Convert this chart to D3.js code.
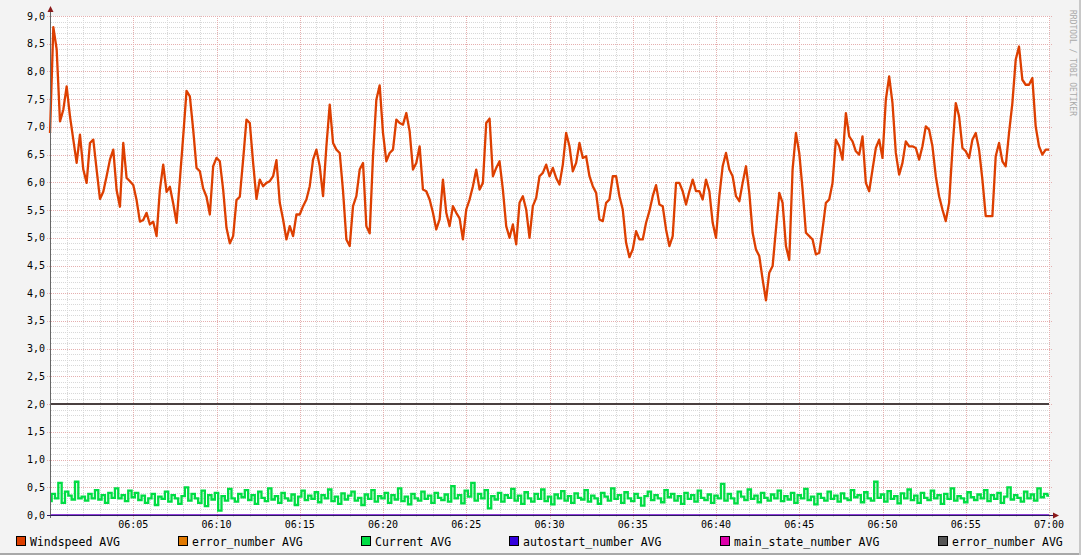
<!DOCTYPE html>
<html>
<head>
<meta charset="utf-8">
<script src="https://cdn.jsdelivr.net/npm/d3@7"></script>
<style>
body{margin:0;background:#f3f3f3}
text{font-family:"DejaVu Sans Mono",monospace}
</style>
</head>
<body>
<svg id="chart" width="1081" height="555"></svg>
<script>
// samples every 12 s from 06:00 to 07:00
const startTime = new Date(2020,0,1,6,0,0)
const endTime = new Date(2020,0,1,7,0,0)
const stepSec = 12

const windspeed = [
 6.89,8.80,8.40,7.10,7.31,7.73,7.19,6.77,6.35,6.86,6.23,5.99,6.71,6.77,6.23,5.70,5.83,6.11,6.41,6.59,
 5.86,5.56,6.71,6.08,6.02,5.95,5.68,5.29,5.32,5.45,5.24,5.29,5.03,5.87,6.32,5.83,5.92,5.62,5.27,6.05,
 6.83,7.65,7.55,6.95,6.26,6.20,5.89,5.74,5.42,6.29,6.44,6.38,5.87,5.18,4.90,5.03,5.68,5.74,6.41,7.13,
 7.07,6.35,5.70,6.05,5.93,5.99,6.02,6.11,6.40,5.63,5.33,4.97,5.21,5.03,5.42,5.42,5.57,5.69,5.93,6.41,
 6.59,6.29,5.75,6.65,7.40,6.71,6.59,6.53,5.84,4.97,4.85,5.57,5.75,6.23,6.35,5.21,5.08,6.47,7.49,7.75,
 6.89,6.38,6.53,6.59,7.13,7.07,7.04,7.25,6.92,6.23,6.35,6.65,5.87,5.84,5.69,5.45,5.15,5.33,6.05,5.45,
 5.21,5.57,5.45,5.35,4.97,5.51,5.69,5.93,6.23,5.87,5.99,7.07,7.15,6.11,6.26,6.38,5.87,5.21,5.00,5.24,
 4.88,5.63,5.75,5.51,5.00,5.57,5.72,6.11,6.17,6.32,6.11,6.26,6.08,5.96,6.32,6.89,6.65,6.20,6.35,6.71,
 6.44,6.47,6.11,5.93,5.81,5.33,5.30,5.63,5.69,6.11,6.11,5.75,5.51,4.91,4.65,4.79,5.12,4.97,4.97,5.27,
 5.48,5.75,5.95,5.60,5.57,5.15,4.85,5.03,5.99,5.99,5.84,5.60,5.84,6.05,5.84,5.84,5.69,6.05,5.84,5.27,
 5.00,5.75,6.29,6.53,6.23,6.11,5.75,5.66,5.99,6.29,5.81,5.09,4.79,4.67,4.25,3.87,4.37,4.49,5.15,5.81,
 5.63,4.85,4.60,6.23,6.89,6.53,5.87,5.09,5.03,4.97,4.70,4.73,5.15,5.63,5.69,5.99,6.77,6.65,6.41,7.25,
 6.83,6.74,6.56,6.50,6.83,5.99,5.84,6.23,6.62,6.77,6.44,7.49,7.91,7.43,6.53,6.14,6.35,6.74,6.65,6.65,
 6.62,6.41,6.65,7.01,6.95,6.65,6.11,5.75,5.51,5.30,5.63,6.59,7.43,7.19,6.62,6.56,6.44,6.77,6.89,6.59,
 6.05,5.39,5.39,5.39,6.47,6.71,6.38,6.29,6.89,7.43,8.21,8.45,7.85,7.76,7.76,7.88,7.01,6.65,6.50,6.59,
 6.59
]

const current = [
 0.25,0.38,0.30,0.58,0.22,0.42,0.35,0.28,0.60,0.30,0.33,0.26,0.38,0.30,0.45,0.28,0.36,0.22,0.40,0.31,
 0.48,0.30,0.36,0.25,0.44,0.32,0.40,0.27,0.35,0.22,0.30,0.38,0.18,0.33,0.29,0.42,0.24,0.36,0.30,0.20,
 0.34,0.50,0.26,0.38,0.30,0.22,0.44,0.16,0.36,0.28,0.40,0.08,0.34,0.26,0.47,0.30,0.24,0.38,0.32,0.45,
 0.27,0.36,0.20,0.42,0.31,0.25,0.48,0.28,0.34,0.22,0.40,0.30,0.26,0.37,0.18,0.33,0.44,0.27,0.35,0.29,
 0.41,0.23,0.36,0.30,0.46,0.25,0.33,0.20,0.39,0.28,0.35,0.42,0.26,0.31,0.18,0.37,0.29,0.45,0.24,0.34,
 0.30,0.40,0.22,0.36,0.28,0.48,0.25,0.33,0.19,0.38,0.30,0.26,0.42,0.29,0.35,0.22,0.40,0.31,0.27,0.37,
 0.24,0.52,0.30,0.36,0.21,0.44,0.33,0.58,0.26,0.38,0.30,0.45,0.12,0.34,0.28,0.40,0.24,0.36,0.31,0.47,
 0.26,0.35,0.20,0.41,0.30,0.24,0.38,0.29,0.46,0.25,0.33,0.19,0.37,0.30,0.43,0.26,0.34,0.22,0.39,0.31,
 0.28,0.45,0.24,0.35,0.30,0.20,0.40,0.33,0.26,0.48,0.29,0.36,0.22,0.41,0.30,0.25,0.38,0.31,0.17,0.34,
 0.42,0.27,0.36,0.30,0.23,0.45,0.32,0.38,0.26,0.34,0.20,0.40,0.29,0.36,0.24,0.44,0.31,0.27,0.37,0.22,
 0.35,0.30,0.56,0.26,0.38,0.30,0.21,0.42,0.33,0.27,0.46,0.29,0.35,0.23,0.40,0.31,0.26,0.37,0.30,0.44,
 0.25,0.34,0.28,0.40,0.22,0.36,0.30,0.47,0.27,0.33,0.19,0.38,0.31,0.26,0.42,0.29,0.35,0.24,0.39,0.30,
 0.27,0.45,0.32,0.36,0.23,0.41,0.30,0.26,0.60,0.31,0.37,0.24,0.43,0.29,0.34,0.21,0.39,0.30,0.46,0.27,
 0.35,0.22,0.40,0.31,0.27,0.44,0.30,0.36,0.20,0.38,0.29,0.48,0.26,0.34,0.30,0.23,0.41,0.32,0.27,0.37,
 0.30,0.45,0.25,0.36,0.29,0.40,0.22,0.33,0.50,0.28,0.36,0.31,0.24,0.42,0.30,0.37,0.26,0.48,0.32,0.38,
 0.35
]

// constant series, start and end of the window
const errorNumberA = [2, 2]
const errorNumberB = [2, 2]
const autostartNumber = [0, 0]
const mainStateNumber = [0, 0]

const legendLabels = ["Windspeed AVG","error_number AVG","Current AVG","autostart_number AVG","main_state_number AVG","error_number AVG"]
const legendColors = ["#DD3F00","#E07800","#00DD44","#3300DD","#DD00AA","#555555"]

const svg = d3.select("#chart")
const W = 1081, H = 555

const X = d3.scaleTime().domain([startTime,endTime]).range([50,1049])
const Y = d3.scaleLinear().domain([0,9]).range([515,16])
const px = v => Math.round(v)+0.5

// background + shade border
svg.append("rect").attr("width",W).attr("height",H).attr("fill","#f3f3f3")
svg.append("line").attr("x1",0).attr("x2",W).attr("y1",H-1).attr("y2",H-1).attr("stroke","#a8a8a8").attr("stroke-width",2)
svg.append("line").attr("x1",W-1).attr("x2",W-1).attr("y1",0).attr("y2",H).attr("stroke","#c8c8c8").attr("stroke-width",2)

// canvas
svg.append("rect").attr("x",50).attr("y",16).attr("width",1000).attr("height",499).attr("fill","#fff")

const grid = svg.append("g").attr("shape-rendering","crispEdges")

// minor grid
const minorY = Y.ticks(90).filter(v => Math.round(v*10)%5 !== 0)
grid.selectAll(".hmin").data(minorY).enter().append("line")
	.attr("x1",51).attr("x2",1050).attr("y1",d=>px(Y(d))).attr("y2",d=>px(Y(d)))
	.attr("stroke","#d8d8d8").attr("stroke-dasharray","1,1")
const minutes = d3.timeMinute.every(1).range(startTime,endTime).filter(t => t.getMinutes()%5 !== 0)
grid.selectAll(".vmin").data(minutes).enter().append("line")
	.attr("x1",d=>px(X(d))).attr("x2",d=>px(X(d))).attr("y1",16).attr("y2",518)
	.attr("stroke","#d8d8d8").attr("stroke-dasharray","1,1")

// major grid
const majorY = Y.ticks(18)
grid.selectAll(".hmaj").data(majorY).enter().append("line")
	.attr("x1",47).attr("x2",1053).attr("y1",d=>px(Y(d))).attr("y2",d=>px(Y(d)))
	.attr("stroke","#e5afaf").attr("stroke-dasharray","1,1")
const fiveMin = d3.timeMinute.every(5).range(d3.timeMinute.offset(startTime,5),d3.timeMinute.offset(endTime,1))
grid.selectAll(".vmaj").data(fiveMin).enter().append("line")
	.attr("x1",d=>px(X(d))).attr("x2",d=>px(X(d))).attr("y1",16).attr("y2",519)
	.attr("stroke","#e5afaf").attr("stroke-dasharray","1,1")

// y labels
const fmt = d3.format(".1f")
svg.selectAll(".ylab").data(majorY).enter().append("text")
	.attr("x",45).attr("y",d=>Y(d)+3.5).attr("text-anchor","end")
	.attr("font-size",10).attr("fill","#000")
	.text(d=>fmt(d).replace(".",","))

// x labels
const tf = d3.timeFormat("%H:%M")
svg.selectAll(".xlab").data(fiveMin).enter().append("text")
	.attr("x",d=>X(d)).attr("y",528).attr("text-anchor","middle")
	.attr("font-size",10).attr("fill","#000")
	.text(d=>tf(d))

// series
const times = windspeed.map((d,i)=>d3.timeSecond.offset(startTime,i*stepSec))
const flatTimes = [startTime,endTime]
const line = d3.line().x(d=>X(d[0])).y(d=>Y(d[1]))
const stepLine = d3.line().x(d=>X(d[0])).y(d=>Y(d[1])).curve(d3.curveStep)
const flat = arr => arr.map((v,i)=>[flatTimes[i],v])

svg.append("path").datum(windspeed.map((v,i)=>[times[i],v]))
	.attr("d",line).attr("fill","none").attr("stroke",legendColors[0]).attr("stroke-width",2.3)
	.attr("stroke-linejoin","round")
svg.append("path").datum(flat(errorNumberA))
	.attr("d",line).attr("fill","none").attr("stroke",legendColors[1]).attr("stroke-width",2)
svg.append("path").datum(current.map((v,i)=>[times[i],v]))
	.attr("d",stepLine).attr("fill","none").attr("stroke",legendColors[2]).attr("stroke-width",2.3)
svg.append("path").datum(flat(mainStateNumber))
	.attr("d",line).attr("fill","none").attr("stroke",legendColors[4]).attr("stroke-width",1)
svg.append("path").datum(flat(autostartNumber))
	.attr("d",line).attr("fill","none").attr("stroke",legendColors[3]).attr("stroke-width",1)
svg.append("path").datum(flat(errorNumberB))
	.attr("d",line).attr("fill","none").attr("stroke","#4a4040").attr("stroke-width",2)

// axes
svg.append("line").attr("x1",50.5).attr("x2",50.5).attr("y1",12).attr("y2",518)
	.attr("stroke","#666").attr("shape-rendering","crispEdges")
svg.append("line").attr("x1",47).attr("x2",1054).attr("y1",515.5).attr("y2",515.5)
	.attr("stroke","#2a1a60").attr("shape-rendering","crispEdges")
svg.append("path").attr("d","M47.5,12 L50.5,6 L53.5,12 Z").attr("fill","#8b1a1a")
svg.append("path").attr("d","M1053,512.5 L1059,515.5 L1053,518.5 Z").attr("fill","#8b1a1a")

// watermark
svg.append("text").attr("transform","translate(1070,10) rotate(90)")
	.attr("font-size",8).attr("fill","#aaa").text("RRDTOOL / TOBI OETIKER")

// legend
const legendX = [16,178,361,509,720,938]
const lg = svg.selectAll(".lg").data(legendLabels).enter().append("g")
	.attr("transform",(d,i)=>`translate(${legendX[i]},536)`)
lg.append("rect").attr("x",0.5).attr("y",0.5).attr("width",9).attr("height",9)
	.attr("fill",(d,i)=>legendColors[i]).attr("stroke","#000").attr("shape-rendering","crispEdges")
lg.append("text").attr("x",14).attr("y",9.5).attr("font-size",11.5).attr("fill","#000").text(d=>d)
</script>
</body>
</html>
